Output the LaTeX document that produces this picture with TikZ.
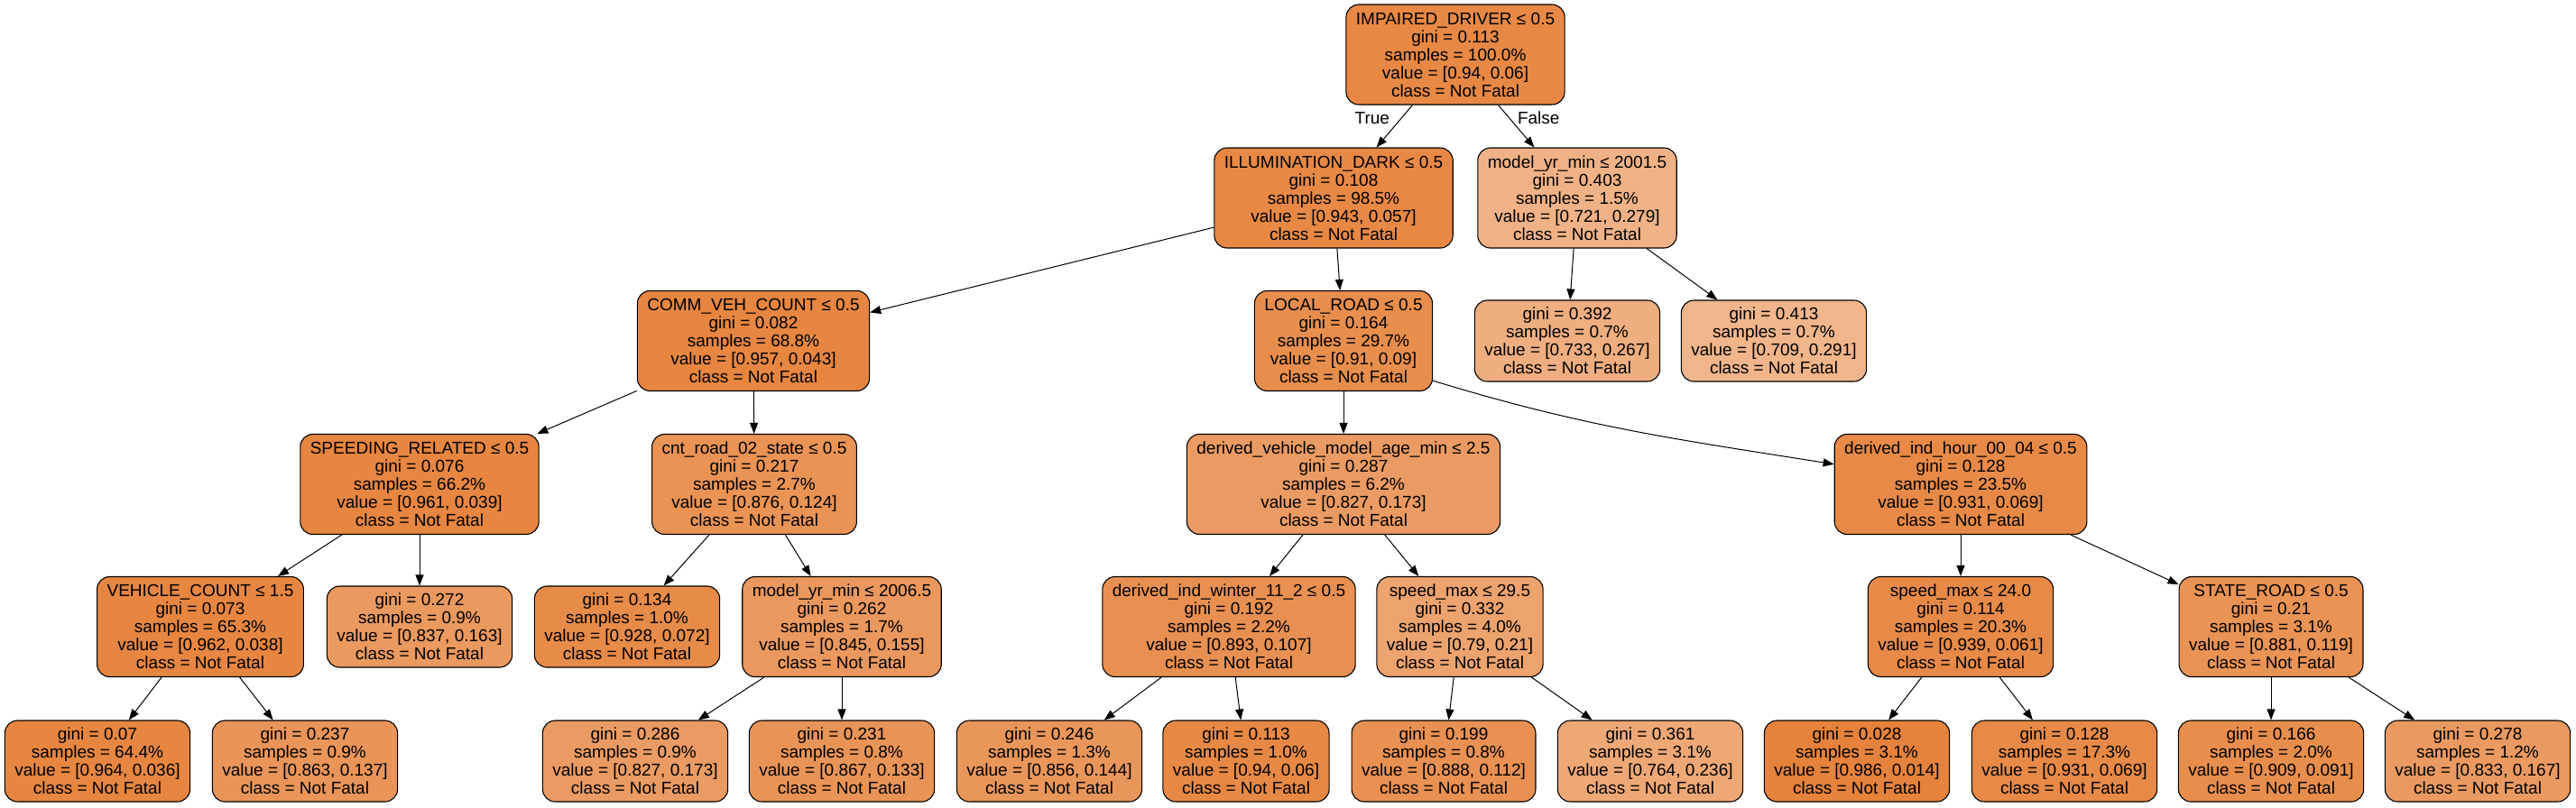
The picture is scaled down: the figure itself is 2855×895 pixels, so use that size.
\documentclass[tikz,border=0pt]{standalone}
\usepackage{fontspec}
\setmainfont{Liberation Sans}
\usepackage{tikz}
\usetikzlibrary{arrows.meta}
\definecolor{nodeorange}{RGB}{229,129,57}

\begin{document}
\begin{tikzpicture}[x=1pt, y=-1pt,
    testbox/.style={draw=black, line width=1.1pt, rounded corners=14pt, align=center,
        inner xsep=11pt, inner ysep=0pt, minimum height=111pt, font=\fontsize{19}{20}\selectfont},
    leafbox/.style={testbox, minimum height=90pt},
    branch/.style={line width=1pt, -{Triangle[length=12pt,width=9pt]}},
    edgelbl/.style={inner sep=0pt, font=\fontsize{19}{20}\selectfont}]
    \useasboundingbox (0,0) rectangle (2855,895);
    % level 0
    \node[testbox, fill=nodeorange!94!white] (root) at (1613,60.5) {IMPAIRED\_DRIVER ≤ 0.5\\gini = 0.113\\samples = 100.0\%\\value = [0.94, 0.06]\\class = Not Fatal};
    % level 1
    \node[testbox, fill=nodeorange!94!white] (illum) at (1478,219.5) {ILLUMINATION\_DARK ≤ 0.5\\gini = 0.108\\samples = 98.5\%\\value = [0.943, 0.057]\\class = Not Fatal};
    \node[testbox, fill=nodeorange!61!white] (myr1) at (1748,219.5) {model\_yr\_min ≤ 2001.5\\gini = 0.403\\samples = 1.5\%\\value = [0.721, 0.279]\\class = Not Fatal};
    % level 2
    \node[testbox, fill=nodeorange!96!white] (comm) at (835,378) {COMM\_VEH\_COUNT ≤ 0.5\\gini = 0.082\\samples = 68.8\%\\value = [0.957, 0.043]\\class = Not Fatal};
    \node[testbox, fill=nodeorange!90!white] (lroad) at (1489,378) {LOCAL\_ROAD ≤ 0.5\\gini = 0.164\\samples = 29.7\%\\value = [0.91, 0.09]\\class = Not Fatal};
    \node[leafbox, fill=nodeorange!64!white] (lf392) at (1737,378) {gini = 0.392\\samples = 0.7\%\\value = [0.733, 0.267]\\class = Not Fatal};
    \node[leafbox, fill=nodeorange!59!white] (lf413) at (1966,378) {gini = 0.413\\samples = 0.7\%\\value = [0.709, 0.291]\\class = Not Fatal};
    % level 3
    \node[testbox, fill=nodeorange!96!white] (speed) at (465,537) {SPEEDING\_RELATED ≤ 0.5\\gini = 0.076\\samples = 66.2\%\\value = [0.961, 0.039]\\class = Not Fatal};
    \node[testbox, fill=nodeorange!86!white] (cntrd) at (836,537) {cnt\_road\_02\_state ≤ 0.5\\gini = 0.217\\samples = 2.7\%\\value = [0.876, 0.124]\\class = Not Fatal};
    \node[testbox, fill=nodeorange!79!white] (dvage) at (1489,537) {derived\_vehicle\_model\_age\_min ≤ 2.5\\gini = 0.287\\samples = 6.2\%\\value = [0.827, 0.173]\\class = Not Fatal};
    \node[testbox, fill=nodeorange!93!white] (dhour) at (2173,537) {derived\_ind\_hour\_00\_04 ≤ 0.5\\gini = 0.128\\samples = 23.5\%\\value = [0.931, 0.069]\\class = Not Fatal};
    % level 4
    \node[testbox, fill=nodeorange!96!white] (vcount) at (222,695) {VEHICLE\_COUNT ≤ 1.5\\gini = 0.073\\samples = 65.3\%\\value = [0.962, 0.038]\\class = Not Fatal};
    \node[leafbox, fill=nodeorange!81!white] (lf272) at (465,695) {gini = 0.272\\samples = 0.9\%\\value = [0.837, 0.163]\\class = Not Fatal};
    \node[leafbox, fill=nodeorange!92!white] (lf134) at (695,695) {gini = 0.134\\samples = 1.0\%\\value = [0.928, 0.072]\\class = Not Fatal};
    \node[testbox, fill=nodeorange!82!white] (myr2) at (933,695) {model\_yr\_min ≤ 2006.5\\gini = 0.262\\samples = 1.7\%\\value = [0.845, 0.155]\\class = Not Fatal};
    \node[testbox, fill=nodeorange!88!white] (dwint) at (1362,695) {derived\_ind\_winter\_11\_2 ≤ 0.5\\gini = 0.192\\samples = 2.2\%\\value = [0.893, 0.107]\\class = Not Fatal};
    \node[testbox, fill=nodeorange!73!white] (smax29) at (1618,695) {speed\_max ≤ 29.5\\gini = 0.332\\samples = 4.0\%\\value = [0.79, 0.21]\\class = Not Fatal};
    \node[testbox, fill=nodeorange!93!white] (smax24) at (2173,695) {speed\_max ≤ 24.0\\gini = 0.114\\samples = 20.3\%\\value = [0.939, 0.061]\\class = Not Fatal};
    \node[testbox, fill=nodeorange!86!white] (sroad) at (2517,695) {STATE\_ROAD ≤ 0.5\\gini = 0.21\\samples = 3.1\%\\value = [0.881, 0.119]\\class = Not Fatal};
    % level 5
    \node[leafbox, fill=nodeorange!96!white] (lf070) at (108,844) {gini = 0.07\\samples = 64.4\%\\value = [0.964, 0.036]\\class = Not Fatal};
    \node[leafbox, fill=nodeorange!84!white] (lf237) at (338,844) {gini = 0.237\\samples = 0.9\%\\value = [0.863, 0.137]\\class = Not Fatal};
    \node[leafbox, fill=nodeorange!79!white] (lf286) at (704,844) {gini = 0.286\\samples = 0.9\%\\value = [0.827, 0.173]\\class = Not Fatal};
    \node[leafbox, fill=nodeorange!85!white] (lf231) at (933,844) {gini = 0.231\\samples = 0.8\%\\value = [0.867, 0.133]\\class = Not Fatal};
    \node[leafbox, fill=nodeorange!83!white] (lf246) at (1163,844) {gini = 0.246\\samples = 1.3\%\\value = [0.856, 0.144]\\class = Not Fatal};
    \node[leafbox, fill=nodeorange!94!white] (lf113) at (1381,844) {gini = 0.113\\samples = 1.0\%\\value = [0.94, 0.06]\\class = Not Fatal};
    \node[leafbox, fill=nodeorange!87!white] (lf199) at (1600,844) {gini = 0.199\\samples = 0.8\%\\value = [0.888, 0.112]\\class = Not Fatal};
    \node[leafbox, fill=nodeorange!69!white] (lf361) at (1829,844) {gini = 0.361\\samples = 3.1\%\\value = [0.764, 0.236]\\class = Not Fatal};
    \node[leafbox, fill=nodeorange!99!white] (lf028) at (2058,844) {gini = 0.028\\samples = 3.1\%\\value = [0.986, 0.014]\\class = Not Fatal};
    \node[leafbox, fill=nodeorange!93!white] (lf128) at (2288,844) {gini = 0.128\\samples = 17.3\%\\value = [0.931, 0.069]\\class = Not Fatal};
    \node[leafbox, fill=nodeorange!90!white] (lf166) at (2517,844) {gini = 0.166\\samples = 2.0\%\\value = [0.909, 0.091]\\class = Not Fatal};
    \node[leafbox, fill=nodeorange!80!white] (lf278) at (2746,844) {gini = 0.278\\samples = 1.2\%\\value = [0.833, 0.167]\\class = Not Fatal};
    % branches
    \draw[branch] (root) -- node[edgelbl, pos=0.3, left=13pt] (ltrue) {True} (illum);
    \draw[branch] (root) -- node[edgelbl, pos=0.3, right=9pt] (lfalse) {False} (myr1);
    \draw[branch] (illum) -- (comm);
    \draw[branch] (illum) -- (lroad);
    \draw[branch] (myr1) -- (lf392);
    \draw[branch] (myr1) -- (lf413);
    \draw[branch] (comm) -- (speed);
    \draw[branch] (comm) -- (cntrd);
    \draw[branch] (lroad) -- (dvage);
    \draw[branch] (lroad.-24) to[out=-17, in=171] (dhour.171);
    \draw[branch] (speed) -- (vcount);
    \draw[branch] (speed) -- (lf272);
    \draw[branch] (cntrd) -- (lf134);
    \draw[branch] (cntrd) -- (myr2);
    \draw[branch] (dvage) -- (dwint);
    \draw[branch] (dvage) -- (smax29);
    \draw[branch] (dhour) -- (smax24);
    \draw[branch] (dhour) -- (sroad);
    \draw[branch] (vcount) -- (lf070);
    \draw[branch] (vcount) -- (lf237);
    \draw[branch] (myr2) -- (lf286);
    \draw[branch] (myr2) -- (lf231);
    \draw[branch] (dwint) -- (lf246);
    \draw[branch] (dwint) -- (lf113);
    \draw[branch] (smax29) -- (lf199);
    \draw[branch] (smax29) -- (lf361);
    \draw[branch] (smax24) -- (lf028);
    \draw[branch] (smax24) -- (lf128);
    \draw[branch] (sroad) -- (lf166);
    \draw[branch] (sroad) -- (lf278);
\end{tikzpicture}
\end{document}
